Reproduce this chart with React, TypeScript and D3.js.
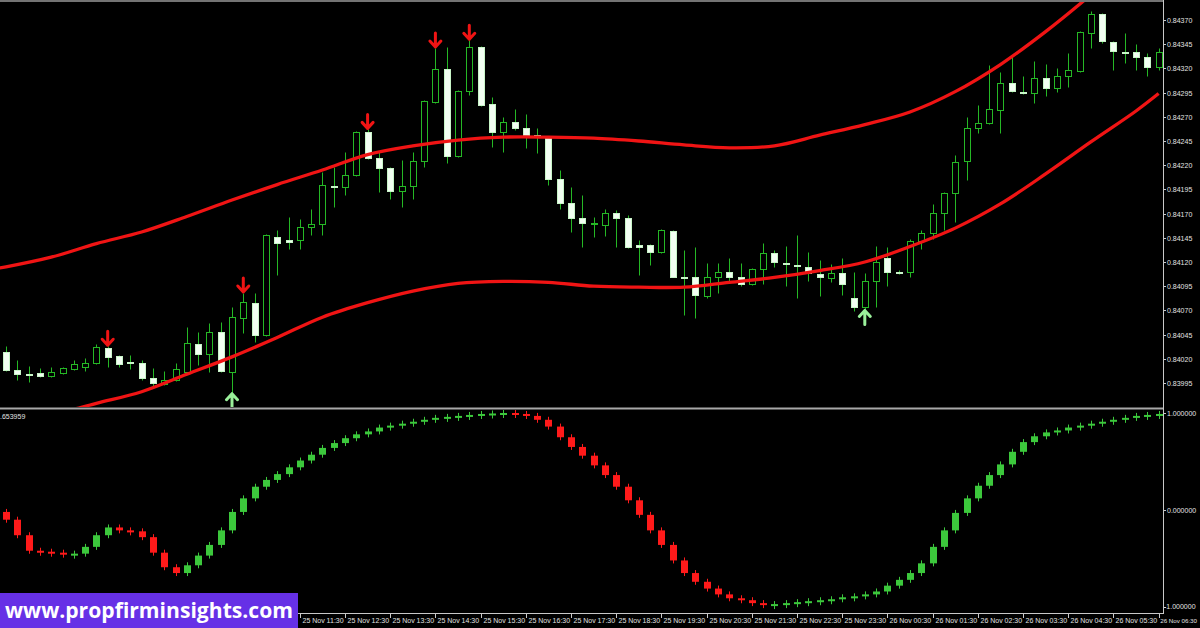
import React from 'react';
import * as d3 from 'd3';

// ---------- DATA ----------
const OPEN = [
  0.84027, 0.84008, 0.84004, 0.84005, 0.84002, 0.84005, 0.84009, 0.84012, 0.84016, 0.84031,
  0.84023, 0.84017, 0.84016, 0.84000, 0.83994, 0.83998, 0.84006, 0.84035, 0.84025, 0.84048,
  0.84006, 0.84062, 0.84078, 0.84045, 0.84146, 0.84143, 0.84143, 0.84156, 0.84159, 0.84199,
  0.84197, 0.84210, 0.84254, 0.84227, 0.84217, 0.84193, 0.84199, 0.84224, 0.84285, 0.84319,
  0.84229, 0.84297, 0.84342, 0.84283, 0.84254, 0.84265, 0.84258, 0.84251, 0.84248, 0.84206,
  0.84181, 0.84165, 0.84159, 0.84158, 0.84171, 0.84165, 0.84138, 0.84138, 0.84130, 0.84152,
  0.84104, 0.84105, 0.84085, 0.84105, 0.84110, 0.84105, 0.84097, 0.84113, 0.84129, 0.84119,
  0.84117, 0.84115, 0.84108, 0.84103, 0.84109, 0.84083, 0.84073, 0.84100, 0.84124, 0.84110,
  0.84110, 0.84142, 0.84150, 0.84171, 0.84191, 0.84224, 0.84258, 0.84264, 0.84277, 0.84305,
  0.84296, 0.84295, 0.84310, 0.84300, 0.84312, 0.84317, 0.84357, 0.84376, 0.84347, 0.84337,
  0.84337, 0.84332, 0.84321,
];
const HIGH = [
  0.84033, 0.84019, 0.84013, 0.84010, 0.84012, 0.84012, 0.84019, 0.84021, 0.84035, 0.84033,
  0.84024, 0.84024, 0.84019, 0.84011, 0.84007, 0.84016, 0.84053, 0.84048, 0.84057, 0.84058,
  0.84073, 0.84088, 0.84088, 0.84149, 0.84153, 0.84167, 0.84164, 0.84175, 0.84213, 0.84218,
  0.84234, 0.84255, 0.84257, 0.84234, 0.84218, 0.84225, 0.84234, 0.84287, 0.84341, 0.84342,
  0.84298, 0.84349, 0.84343, 0.84290, 0.84270, 0.84278, 0.84273, 0.84258, 0.84249, 0.84215,
  0.84197, 0.84189, 0.84167, 0.84175, 0.84174, 0.84169, 0.84143, 0.84139, 0.84154, 0.84153,
  0.84132, 0.84135, 0.84119, 0.84119, 0.84124, 0.84119, 0.84114, 0.84140, 0.84132, 0.84137,
  0.84148, 0.84130, 0.84122, 0.84118, 0.84124, 0.84110, 0.84109, 0.84137, 0.84136, 0.84112,
  0.84144, 0.84153, 0.84180, 0.84192, 0.84231, 0.84270, 0.84282, 0.84324, 0.84316, 0.84332,
  0.84312, 0.84328, 0.84325, 0.84320, 0.84336, 0.84359, 0.84379, 0.84377, 0.84348, 0.84357,
  0.84345, 0.84336, 0.84341,
];
const LOW = [
  0.84007, 0.83998, 0.83996, 0.84001, 0.84001, 0.84004, 0.84008, 0.84007, 0.84015, 0.84012,
  0.84012, 0.84009, 0.83998, 0.83991, 0.83993, 0.83997, 0.84005, 0.84014, 0.84006, 0.84006,
  0.83985, 0.84047, 0.84037, 0.84044, 0.84107, 0.84133, 0.84133, 0.84148, 0.84148, 0.84177,
  0.84189, 0.84209, 0.84226, 0.84192, 0.84185, 0.84177, 0.84185, 0.84218, 0.84284, 0.84222,
  0.84228, 0.84293, 0.84281, 0.84239, 0.84234, 0.84256, 0.84238, 0.84233, 0.84200, 0.84175,
  0.84151, 0.84135, 0.84146, 0.84147, 0.84136, 0.84134, 0.84107, 0.84117, 0.84129, 0.84104,
  0.84065, 0.84062, 0.84083, 0.84088, 0.84100, 0.84095, 0.84096, 0.84097, 0.84115, 0.84095,
  0.84083, 0.84100, 0.84085, 0.84099, 0.84086, 0.84069, 0.84071, 0.84074, 0.84095, 0.84108,
  0.84105, 0.84133, 0.84144, 0.84153, 0.84161, 0.84205, 0.84253, 0.84263, 0.84253, 0.84296,
  0.84294, 0.84284, 0.84292, 0.84296, 0.84301, 0.84316, 0.84341, 0.84346, 0.84318, 0.84326,
  0.84318, 0.84312, 0.84318,
];
const CLOSE = [
  0.84008, 0.84004, 0.84003, 0.84002, 0.84006, 0.84010, 0.84015, 0.84016, 0.84032, 0.84022,
  0.84015, 0.84016, 0.84000, 0.83995, 0.83998, 0.84009, 0.84036, 0.84025, 0.84048, 0.84007,
  0.84063, 0.84079, 0.84045, 0.84148, 0.84140, 0.84141, 0.84156, 0.84159, 0.84200, 0.84197,
  0.84210, 0.84254, 0.84227, 0.84217, 0.84193, 0.84199, 0.84224, 0.84286, 0.84319, 0.84229,
  0.84297, 0.84342, 0.84282, 0.84254, 0.84265, 0.84258, 0.84251, 0.84250, 0.84206, 0.84181,
  0.84165, 0.84160, 0.84160, 0.84171, 0.84165, 0.84135, 0.84136, 0.84130, 0.84153, 0.84105,
  0.84103, 0.84086, 0.84105, 0.84110, 0.84105, 0.84097, 0.84113, 0.84129, 0.84120, 0.84118,
  0.84116, 0.84109, 0.84104, 0.84109, 0.84097, 0.84073, 0.84100, 0.84120, 0.84110, 0.84109,
  0.84142, 0.84150, 0.84171, 0.84191, 0.84223, 0.84258, 0.84264, 0.84278, 0.84305, 0.84297,
  0.84295, 0.84310, 0.84300, 0.84312, 0.84318, 0.84358, 0.84376, 0.84348, 0.84338, 0.84336,
  0.84332, 0.84321, 0.84337,
];

// channel bands, sampled at bar indices (index -1 is the bar just left of the window)
const BAND_IDX = [-1, 0, 4, 8, 12, 16, 20, 24, 28, 32, 36, 40, 44, 48, 52, 56, 60, 64, 68, 72, 76, 80, 84, 88, 92, 96, 100, 102];
const UPPER_BAND = [
  0.84113, 0.84115, 0.84125, 0.84139, 0.84151, 0.84167, 0.84184, 0.84200, 0.84215, 0.84231, 0.84240,
  0.84246, 0.84249, 0.84249, 0.84248, 0.84245, 0.84241, 0.84238, 0.84240, 0.84251, 0.84262,
  0.84275, 0.84296, 0.84324, 0.84358, 0.84396, 0.84437, 0.84458,
];
const LOWER_BAND = [
  0.83950, 0.83952, 0.83962, 0.83974, 0.83986, 0.84004, 0.84022, 0.84042, 0.84063, 0.84078, 0.84090,
  0.84098, 0.84100, 0.84099, 0.84095, 0.84094, 0.84094, 0.84099, 0.84104, 0.84111, 0.84120,
  0.84136, 0.84155, 0.84180, 0.84211, 0.84244, 0.84276, 0.84294,
];

// oscillator (lower window)
const OSC_PREV = -0.02;
const OSC = [
  -0.10, -0.26, -0.42, -0.43, -0.44, -0.46, -0.45, -0.38, -0.26, -0.18,
  -0.21, -0.22, -0.28, -0.44, -0.59, -0.65, -0.57, -0.47, -0.36, -0.21,
  -0.02, 0.12, 0.24, 0.31, 0.37, 0.44, 0.51, 0.57, 0.64, 0.69,
  0.74, 0.78, 0.81, 0.85, 0.87, 0.89, 0.91, 0.93, 0.95, 0.96,
  0.97, 0.98, 0.99, 0.995, 1.00, 0.99, 0.97, 0.93, 0.86, 0.75,
  0.65, 0.56, 0.46, 0.36, 0.24, 0.10, -0.05, -0.21, -0.36, -0.52,
  -0.65, -0.74, -0.81, -0.87, -0.91, -0.93, -0.96, -0.98, -0.97, -0.96,
  -0.95, -0.94, -0.93, -0.92, -0.90, -0.89, -0.87, -0.84, -0.78, -0.72,
  -0.65, -0.55, -0.38, -0.21, -0.03, 0.12, 0.25, 0.36, 0.47, 0.60,
  0.70, 0.76, 0.80, 0.82, 0.85, 0.87, 0.89, 0.91, 0.93, 0.95,
  0.97, 0.98, 0.99,
];

const DOWN_SIGNALS = [9, 21, 32, 38, 41];
const UP_SIGNALS = [20, 76];

const PRICE_TICKS = [
  0.84370, 0.84345, 0.84320, 0.84295, 0.84270, 0.84245, 0.84220, 0.84195,
  0.84170, 0.84145, 0.84120, 0.84095, 0.84070, 0.84045, 0.84020, 0.83995,
];
const OSC_TICKS = [1, 0, -1];
const TIME_LABELS = [
  '25 Nov 11:30', '25 Nov 12:30', '25 Nov 13:30', '25 Nov 14:30', '25 Nov 15:30',
  '25 Nov 16:30', '25 Nov 17:30', '25 Nov 18:30', '25 Nov 19:30', '25 Nov 20:30',
  '25 Nov 21:30', '25 Nov 22:30', '25 Nov 23:30', '26 Nov 00:30', '26 Nov 01:30',
  '26 Nov 02:30', '26 Nov 03:30', '26 Nov 04:30', '26 Nov 05:30', '26 Nov 06:30',
];
const TIME_LABEL_IDX = [26, 30, 34, 38, 42, 46, 50, 54, 58, 62, 66, 70, 74, 78, 82, 86, 90, 94, 98, 102];
const INDICATOR_VALUE_TEXT = '.653959';
const WATERMARK = 'www.propfirminsights.com';

// ---------- STYLE ----------
const GREEN = '#25b825';
const BEAR_FILL = '#f2fff2';
const RED = '#f01414';
const UP_ARROW = '#9af09a';
const AXIS = '#c8c8c8';
const TEXT = '#e2e2e2';
const FONT = '"Liberation Sans", Arial, sans-serif';

export default function App() {
  const W = 1200;
  const H = 628;
  const axisX = 1163;
  const mainTop = 2;
  const mainBottom = 407;
  const subTop = 410;
  const subBottom = 613;

  const n = OPEN.length;
  const x = d3.scaleLinear().domain([0, n - 1]).range([6, 6 + (n - 1) * 11.3]);
  const y = d3.scaleLinear().domain([0.83995, 0.8437]).range([383, 20]);
  const yo = d3.scaleLinear().domain([-1, 1]).range([607, 413]);

  const bandLine = (vals: number[]) =>
    d3
      .line<number>()
      .x((_, k) => x(BAND_IDX[k]))
      .y((v) => y(v))
      .curve(d3.curveCatmullRom.alpha(0.5))(vals) || '';

  const candles = OPEN.map((o, i) => {
    const c = CLOSE[i];
    const cx = Math.round(x(i)) + 0.5;
    const yTop = Math.round(y(Math.max(o, c))) + 0.5;
    const yBot = Math.round(y(Math.min(o, c))) + 0.5;
    const yH = Math.round(y(HIGH[i])) + 0.5;
    const yL = Math.round(y(LOW[i])) + 0.5;
    const bull = c >= o;
    return (
      <g key={'c' + i}>
        <line x1={cx} x2={cx} y1={yH} y2={yL} stroke={GREEN} strokeWidth={1} />
        {yBot - yTop < 1 ? (
          <line x1={cx - 3.5} x2={cx + 3.5} y1={yTop} y2={yTop} stroke={bull ? GREEN : BEAR_FILL} strokeWidth={1.2} />
        ) : (
          <rect
            x={cx - 3}
            y={yTop}
            width={6}
            height={yBot - yTop}
            fill={bull ? '#000' : BEAR_FILL}
            stroke={bull ? GREEN : '#c8f5c8'}
            strokeWidth={1}
          />
        )}
      </g>
    );
  });

  const downArrows = DOWN_SIGNALS.map((i) => {
    const cx = x(i);
    const tip = y(HIGH[i]) - 1;
    const top = tip - 14;
    return (
      <path
        key={'d' + i}
        d={`M${cx},${top} L${cx},${tip} M${cx - 5.5},${tip - 6} L${cx},${tip} L${cx + 5.5},${tip - 6}`}
        fill="none"
        stroke={RED}
        strokeWidth={3}
        strokeLinecap="round"
        strokeLinejoin="round"
      />
    );
  });
  const upArrows = UP_SIGNALS.map((i) => {
    const cx = x(i);
    const tip = y(LOW[i]) + 1;
    const bot = tip + 14;
    return (
      <path
        key={'u' + i}
        d={`M${cx},${bot} L${cx},${tip} M${cx - 5.5},${tip + 6} L${cx},${tip} L${cx + 5.5},${tip + 6}`}
        fill="none"
        stroke={UP_ARROW}
        strokeWidth={3}
        strokeLinecap="round"
        strokeLinejoin="round"
      />
    );
  });

  const oscBars = OSC.map((v, i) => {
    const prev = i === 0 ? OSC_PREV : OSC[i - 1];
    const up = v >= prev;
    const col = up ? '#3cc83c' : '#ff1a1a';
    const cx = Math.round(x(i)) + 0.5;
    const y1 = yo(Math.max(v, prev));
    const y2 = yo(Math.min(v, prev));
    const h = Math.max(y2 - y1, 2);
    return (
      <g key={'o' + i}>
        <line x1={cx} x2={cx} y1={y1 - 3} y2={y1 + h + 3} stroke={col} strokeWidth={1} />
        <rect x={cx - 3.5} y={y1} width={7} height={h} fill={col} />
      </g>
    );
  });

  return (
    <svg
      width={W}
      height={H}
      style={{ position: 'fixed', left: 0, top: 0, background: '#000', display: 'block' }}
      fontFamily={FONT}
    >
      <defs>
        <clipPath id="mainClip">
          <rect x={0} y={mainTop} width={axisX} height={mainBottom - mainTop} />
        </clipPath>
        <clipPath id="subClip">
          <rect x={0} y={subTop} width={axisX} height={subBottom - subTop} />
        </clipPath>
      </defs>
      <rect x={0} y={0} width={W} height={H} fill="#000" />

      {/* main window */}
      <g clipPath="url(#mainClip)">
        {candles}
        <path d={bandLine(UPPER_BAND)} fill="none" stroke={RED} strokeWidth={3.3} />
        <path d={bandLine(LOWER_BAND)} fill="none" stroke={RED} strokeWidth={3.3} />
        {downArrows}
        {upArrows}
      </g>

      {/* sub window */}
      <g clipPath="url(#subClip)">{oscBars}</g>
      <text x={0} y={419} fontSize={7} fill={TEXT}>
        {INDICATOR_VALUE_TEXT}
      </text>

      {/* frames */}
      <line x1={0} x2={axisX} y1={1} y2={1} stroke="#9a9a9a" strokeWidth={1.5} />
      <line x1={0} x2={axisX} y1={408.5} y2={408.5} stroke="#a8a8a8" strokeWidth={2} />
      <line x1={0} x2={axisX} y1={613.5} y2={613.5} stroke={AXIS} strokeWidth={1} />
      <line x1={axisX + 0.5} x2={axisX + 0.5} y1={0} y2={614} stroke={AXIS} strokeWidth={1} />

      {/* price axis */}
      {PRICE_TICKS.map((p) => {
        const yy = Math.round(y(p)) + 0.5;
        return (
          <g key={'pt' + p}>
            <line x1={axisX} x2={axisX + 3} y1={yy} y2={yy} stroke={AXIS} />
            <text x={axisX + 4} y={yy + 2.5} fontSize={7} fill={TEXT}>
              {p.toFixed(5)}
            </text>
          </g>
        );
      })}
      {OSC_TICKS.map((v) => {
        const yy = Math.round(yo(v)) + 0.5;
        return (
          <g key={'ot' + v}>
            <line x1={axisX} x2={axisX + 3} y1={yy} y2={yy} stroke={AXIS} />
            <text x={axisX + (v < 0 ? 1 : 4)} y={v < 0 ? yy + 1 : yy + 2.5} fontSize={7} fill={TEXT}>
              {v.toFixed(6)}
            </text>
          </g>
        );
      })}

      {/* time axis */}
      {TIME_LABELS.map((t, k) => {
        const xx = Math.round(x(TIME_LABEL_IDX[k])) + 0.5;
        const last = k === TIME_LABELS.length - 1;
        return (
          <g key={'tl' + k}>
            <line x1={xx} x2={xx} y1={614} y2={618} stroke={AXIS} />
            {last ? (
              <text x={W - 3} y={623} fontSize={6.2} fill={TEXT} textAnchor="end">
                {t}
              </text>
            ) : (
              <text x={xx + 2} y={623} fontSize={7} fill={TEXT}>
                {t}
              </text>
            )}
          </g>
        );
      })}

      {/* watermark */}
      <rect x={0} y={593} width={298} height={35} fill="#6630e6" />
      <text
        x={5}
        y={618}
        fontSize={21}
        fontWeight={700}
        fontFamily='"Open Sans", sans-serif'
        fill="#ffffff"
        textLength={288}
        lengthAdjust="spacingAndGlyphs"
      >
        {WATERMARK}
      </text>
    </svg>
  );
}
